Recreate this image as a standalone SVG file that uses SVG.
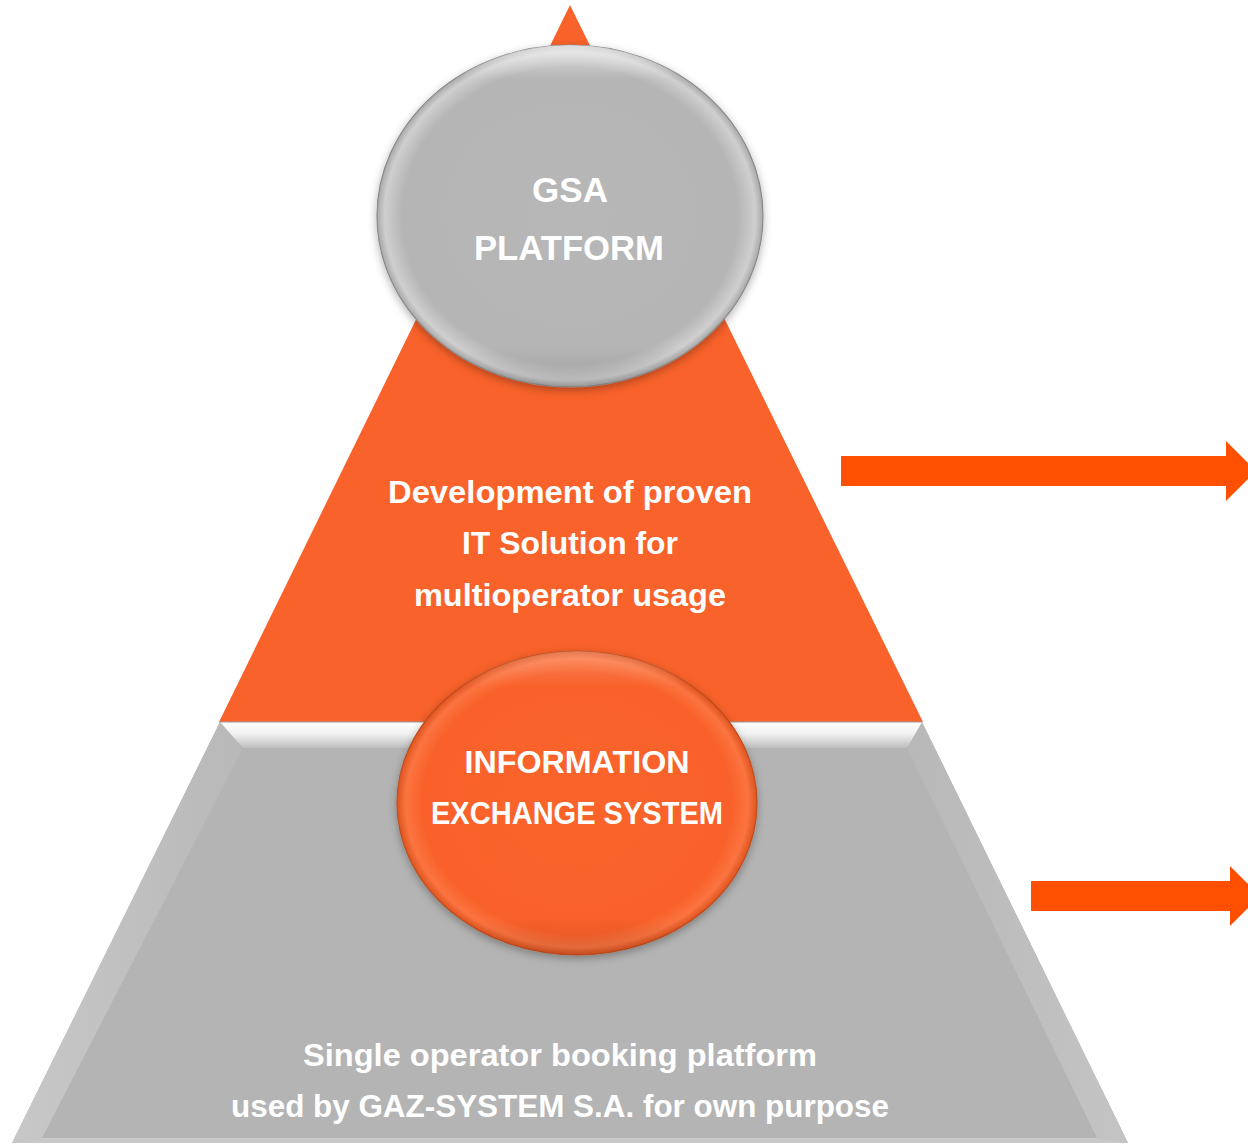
<svg xmlns="http://www.w3.org/2000/svg" width="1248" height="1146" viewBox="0 0 1248 1146">
  <style>
    .lbl { font-family: "Liberation Sans", Arial, sans-serif; font-weight: bold; fill: #FFFFFF; text-anchor: middle; }
    .arrow { fill: #FF4F00; }
  </style>
  <defs>
    <filter id="shadow" x="-10%" y="-10%" width="120%" height="125%">
      <feDropShadow dx="0" dy="3" stdDeviation="4" flood-color="#000" flood-opacity="0.3"/>
    </filter>
    <linearGradient id="topBevel" x1="0" y1="0" x2="0" y2="1">
      <stop offset="0" stop-color="#FFFFFF"/>
      <stop offset="0.45" stop-color="#F2F2F2"/>
      <stop offset="1" stop-color="#BEBEBE"/>
    </linearGradient>
    <linearGradient id="leftBevel" x1="0" y1="0" x2="1" y2="0">
      <stop offset="0" stop-color="#C8C8C8"/>
      <stop offset="1" stop-color="#B8B8B8"/>
    </linearGradient>
    <linearGradient id="rightBevel" x1="0" y1="0" x2="1" y2="0">
      <stop offset="0" stop-color="#B8B8B8"/>
      <stop offset="1" stop-color="#C4C4C4"/>
    </linearGradient>
    <radialGradient id="grayRing" cx="0.5" cy="0.5" r="0.5">
      <stop offset="0" stop-color="#B7B7B7"/>
      <stop offset="0.87" stop-color="#B5B5B5"/>
      <stop offset="0.96" stop-color="#CFCFCF"/>
      <stop offset="1" stop-color="#A8A8A8"/>
    </radialGradient>
    <linearGradient id="grayShade" x1="0" y1="0" x2="0" y2="1">
      <stop offset="0" stop-color="#FFFFFF" stop-opacity="0.6"/>
      <stop offset="0.1" stop-color="#FFFFFF" stop-opacity="0"/>
      <stop offset="0.88" stop-color="#000000" stop-opacity="0"/>
      <stop offset="1" stop-color="#000000" stop-opacity="0.12"/>
    </linearGradient>
    <radialGradient id="orangeRing" cx="0.5" cy="0.5" r="0.5">
      <stop offset="0" stop-color="#FA642C"/>
      <stop offset="0.86" stop-color="#F9612A"/>
      <stop offset="0.95" stop-color="#FB7440"/>
      <stop offset="1" stop-color="#DE541F"/>
    </radialGradient>
    <linearGradient id="orangeShade" x1="0" y1="0" x2="0" y2="1">
      <stop offset="0" stop-color="#FFFFFF" stop-opacity="0.22"/>
      <stop offset="0.12" stop-color="#FFFFFF" stop-opacity="0"/>
      <stop offset="0.88" stop-color="#000000" stop-opacity="0"/>
      <stop offset="1" stop-color="#000000" stop-opacity="0.12"/>
    </linearGradient>
  </defs>

  <g id="pyramid-top">
    <polygon points="570,5 923,722 219,722" fill="#F9622A"/>
    <text class="lbl" x="570" y="503" font-size="32" textLength="364" lengthAdjust="spacingAndGlyphs">Development of proven</text>
    <text class="lbl" x="570" y="554" font-size="32" textLength="216" lengthAdjust="spacingAndGlyphs">IT Solution for</text>
    <text class="lbl" x="570" y="606" font-size="32" textLength="312" lengthAdjust="spacingAndGlyphs">multioperator usage</text>
  </g>

  <g id="pyramid-base">
    <polygon points="220,722 922,722 1128,1143 12,1143" fill="#B4B4B4"/>
    <polygon points="220,722 243,748 42,1138 12,1143" fill="url(#leftBevel)"/>
    <polygon points="922,722 1128,1143 1097,1138 907,748" fill="url(#rightBevel)"/>
    <polygon points="12,1143 42,1138 1097,1138 1128,1143" fill="#C9C9C9"/>
    <polygon points="220,722 922,722 907,748 243,748" fill="url(#topBevel)"/>
    <line x1="220" y1="722" x2="922" y2="722" stroke="#9A9A9A" stroke-width="1"/>
    <text class="lbl" x="560" y="1066" font-size="32" textLength="514" lengthAdjust="spacingAndGlyphs">Single operator booking platform</text>
    <text class="lbl" x="560" y="1117" font-size="32" textLength="658" lengthAdjust="spacingAndGlyphs">used by GAZ-SYSTEM S.A. for own purpose</text>
  </g>

  <g id="gsa-platform">
    <ellipse cx="570" cy="216" rx="193" ry="171" fill="url(#grayRing)" stroke="#8A8A8A" stroke-width="1.2" filter="url(#shadow)"/>
    <ellipse cx="570" cy="216" rx="193" ry="171" fill="url(#grayShade)"/>
    <text class="lbl" x="570" y="202" font-size="35">GSA</text>
    <text class="lbl" x="569" y="260" font-size="35" textLength="190" lengthAdjust="spacingAndGlyphs">PLATFORM</text>
  </g>

  <g id="information-exchange-system">
    <ellipse cx="577" cy="803" rx="180" ry="152" fill="url(#orangeRing)" stroke="#BE4C1C" stroke-width="1.1" filter="url(#shadow)"/>
    <ellipse cx="577" cy="803" rx="180" ry="152" fill="url(#orangeShade)"/>
    <text class="lbl" x="577" y="773" font-size="32" textLength="225" lengthAdjust="spacingAndGlyphs">INFORMATION</text>
    <text class="lbl" x="577" y="824" font-size="32" textLength="292" lengthAdjust="spacingAndGlyphs">EXCHANGE SYSTEM</text>
  </g>

  <g id="arrows">
    <polygon class="arrow" points="841,456 1226,456 1226,441 1256,471 1226,501 1226,486 841,486"/>
    <polygon class="arrow" points="1031,881 1230,881 1230,866 1260,896 1230,926 1230,911 1031,911"/>
  </g>
</svg>
